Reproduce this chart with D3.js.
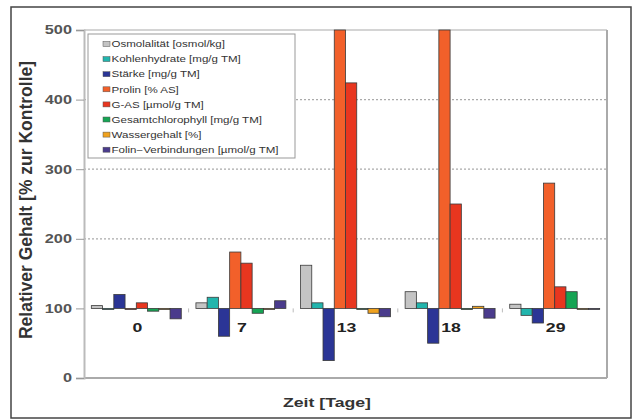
<!DOCTYPE html>
<html><head><meta charset="utf-8">
<script src="https://cdn.jsdelivr.net/npm/d3@7"></script>
<style>body{margin:0;background:#fff}svg{display:block}</style>
</head><body>
<svg id="c" width="634" height="419"></svg>
<script>
const categories = ["0", "7", "13", "18", "29"];
const seriesNames = ["Osmolalität [osmol/kg]", "Kohlenhydrate [mg/g TM]", "Stärke [mg/g TM]", "Prolin [% AS]", "G-AS [µmol/g TM]", "Gesamtchlorophyll [mg/g TM]", "Wassergehalt [%]", "Folin−Verbindungen [µmol/g TM]"];
const seriesColors = ["#c4c4c4", "#22b5ad", "#2b3596", "#f2602a", "#e8361f", "#16a454", "#f0a21e", "#4a3b8c"];
const osmolalitaet = [104, 108, 162, 124, 106];
const kohlenhydrate = [100, 116, 108, 108, 90];
const staerke = [120, 60, 25, 50, 79];
const prolin = [100, 181, 500, 500, 280];
const gas = [108, 165, 424, 250, 131];
const chlorophyll = [96, 93, 100, 100, 124];
const wassergehalt = [100, 100, 93, 103, 100];
const folin = [85, 111, 88, 86, 99];
const yTicks = [0, 100, 200, 300, 400, 500];
const gridValues = [200, 300, 400];
const seriesValues = [osmolalitaet, kohlenhydrate, staerke, prolin, gas, chlorophyll, wassergehalt, folin];
const baseline = 100;

(function () {
const svg = d3.select("#c");
const pLeft = 84, pRight = 607, pTop = 30, pBottom = 378;
const font = "Liberation Sans, Arial, sans-serif";
const sx = 1.36; // horizontal stretch of the reference text

// outer frame
svg.append("rect").attr("x", 11).attr("y", 7).attr("width", 620).attr("height", 411)
  .attr("fill", "#fff").attr("stroke", "#444").attr("stroke-width", 1.5);

const y = d3.scaleLinear().domain([0, 500]).range([pBottom, pTop]);
const x0 = d3.scaleBand().domain(categories).range([pLeft, pRight]).paddingInner(0.14).paddingOuter(0.07);
const x1 = d3.scaleBand().domain(d3.range(seriesNames.length)).range([0, x0.bandwidth()]);

// grid
svg.append("g").selectAll("line").data(gridValues).join("line")
  .attr("x1", pLeft).attr("x2", pRight).attr("y1", d => y(d)).attr("y2", d => y(d))
  .attr("stroke", "#aaa").attr("stroke-width", 1.2).attr("stroke-dasharray", "2,2");

// plot border
svg.append("line").attr("x1", pLeft).attr("x2", pRight).attr("y1", pTop).attr("y2", pTop).attr("stroke", "#d4d4d4").attr("stroke-width", 2);
svg.append("line").attr("x1", pRight).attr("x2", pRight).attr("y1", pTop).attr("y2", pBottom).attr("stroke", "#aaa").attr("stroke-width", 2);
svg.append("line").attr("x1", pLeft).attr("x2", pRight).attr("y1", pBottom).attr("y2", pBottom).attr("stroke", "#aaa").attr("stroke-width", 2);

// y axis
const yAxis = d3.axisLeft(y).tickValues(yTicks).tickSize(8).tickPadding(0);
const ga = svg.append("g").attr("transform", `translate(${pLeft},0)`).call(yAxis);
ga.select(".domain").attr("stroke", "#bbb").attr("stroke-width", 2);
ga.selectAll(".tick line").attr("stroke", "#999");
ga.selectAll("text").attr("font-family", font).attr("font-size", 12)
  .attr("font-weight", "bold").attr("fill", "#555")
  .attr("x", -12 / sx).attr("transform", `scale(${sx},1)`);

// category boundary ticks at baseline
svg.append("g").selectAll("line").data(categories.slice(1)).join("line")
  .attr("x1", d => x0(d) - x0.step() * x0.paddingInner() / 2).attr("x2", d => x0(d) - x0.step() * x0.paddingInner() / 2)
  .attr("y1", y(baseline)).attr("y2", y(baseline) + 4).attr("stroke", "#bbb").attr("stroke-width", 1);

// bars
const groups = svg.append("g").selectAll("g").data(categories).join("g")
  .attr("transform", d => `translate(${x0(d)},0)`);
groups.selectAll("rect").data((d, ci) => seriesValues.map((vals, si) => ({ si, v: vals[ci] })))
  .join("rect")
  .attr("x", d => x1(d.si))
  .attr("width", x1.bandwidth())
  .attr("y", d => Math.min(y(d.v), y(baseline)))
  .attr("height", d => Math.max(1, Math.abs(y(d.v) - y(baseline))))
  .attr("fill", d => seriesColors[d.si])
  .attr("stroke", "#3a3a3a").attr("stroke-width", 0.8);

// category labels
svg.append("g").selectAll("g").data(categories).join("g")
  .attr("transform", d => `translate(${x0(d) + x0.bandwidth() / 2 + 1},${y(baseline) + 24}) scale(${sx},1)`)
  .append("text").attr("text-anchor", "middle").attr("font-family", font)
  .attr("font-size", 13).attr("font-weight", "bold").attr("fill", "#222").text(d => d);

// axis titles
svg.append("text").attr("transform", `translate(32,200) rotate(-90)`)
  .attr("text-anchor", "middle").attr("font-family", font)
  .attr("font-size", 17.5).attr("font-weight", "bold").attr("fill", "#333").text("Relativer Gehalt [% zur Kontrolle]");
svg.append("text").attr("transform", `translate(327,407) scale(${sx},1)`)
  .attr("text-anchor", "middle").attr("font-family", font)
  .attr("font-size", 13).attr("font-weight", "bold").attr("fill", "#333").text("Zeit [Tage]");

// legend
const lg = svg.append("g");
lg.append("rect").attr("x", 88).attr("y", 34).attr("width", 207).attr("height", 124)
  .attr("fill", "#fff").attr("stroke", "#999").attr("stroke-width", 1);
const items = lg.selectAll("g").data(seriesNames).join("g")
  .attr("transform", (d, i) => `translate(103,${44 + i * 15.1})`);
items.append("rect").attr("x", 0).attr("y", -2.5).attr("width", 7).attr("height", 5)
  .attr("fill", (d, i) => seriesColors[i]).attr("stroke", "#555").attr("stroke-width", 0.5);
items.append("text").attr("transform", `translate(8.5,3.2) scale(${sx},1)`).attr("font-family", font)
  .attr("font-size", 8.5).attr("fill", "#333").text(d => d);
})();
</script>
</body></html>
